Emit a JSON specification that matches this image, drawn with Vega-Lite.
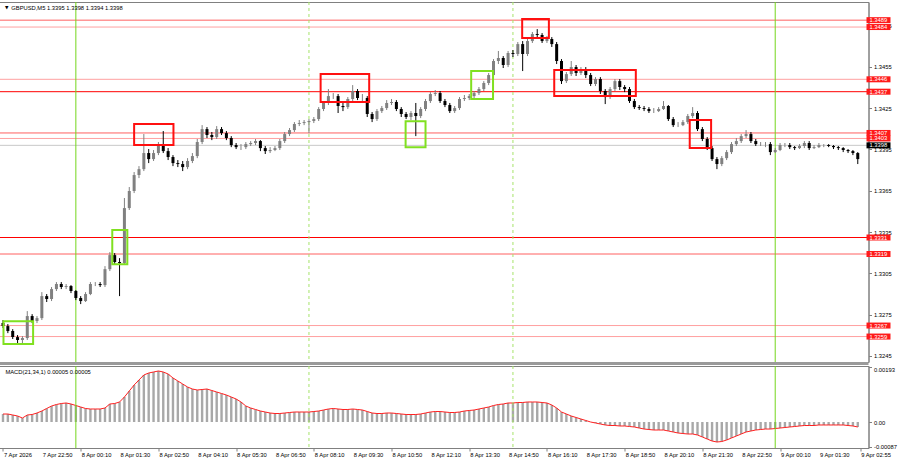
{
"$schema": "https://vega.github.io/schema/vega-lite/v6.json",
"padding": {"left": -4.5, "top": 1, "right": 0, "bottom": 0},
"background": "white",
"spacing": 4,
"bounds": "flush",
"config": {
  "view": {"stroke": "#808080", "strokeWidth": 1},
  "font": "Liberation Sans",
  "axis": {"labelFont": "Liberation Sans", "labelFontSize": 5.8, "labelColor": "#000000", "domainColor": "#808080", "tickColor": "#808080", "grid": false, "title": null, "tickSize": 3, "labelOverlap": false}
},
"datasets": {
  "bars": [
{"m":0,"o":1.32688,"h":1.3271,"l":1.32652,"c":1.32666,"macd":0.00028},
{"m":10,"o":1.32666,"h":1.32681,"l":1.32615,"c":1.3263,"macd":0.00028},
{"m":20,"o":1.3263,"h":1.32644,"l":1.32572,"c":1.32586,"macd":0.000246},
{"m":30,"o":1.32586,"h":1.32601,"l":1.32543,"c":1.32565,"macd":0.000211},
{"m":40,"o":1.32565,"h":1.32593,"l":1.32543,"c":1.32579,"macd":0.00014},
{"m":50,"o":1.32579,"h":1.32775,"l":1.32565,"c":1.32739,"macd":0.000246},
{"m":60,"o":1.32739,"h":1.32753,"l":1.32688,"c":1.32703,"macd":0.000263},
{"m":70,"o":1.32703,"h":1.32739,"l":1.32688,"c":1.32724,"macd":0.000316},
{"m":80,"o":1.32724,"h":1.32913,"l":1.3271,"c":1.32884,"macd":0.000386},
{"m":90,"o":1.32884,"h":1.32899,"l":1.32841,"c":1.32863,"macd":0.000474},
{"m":100,"o":1.32863,"h":1.3295,"l":1.32848,"c":1.32935,"macd":0.000561},
{"m":110,"o":1.32935,"h":1.32986,"l":1.32921,"c":1.32972,"macd":0.000614},
{"m":120,"o":1.32972,"h":1.32986,"l":1.32935,"c":1.3295,"macd":0.000649},
{"m":130,"o":1.3295,"h":1.32972,"l":1.32935,"c":1.32957,"macd":0.000667},
{"m":140,"o":1.32957,"h":1.32964,"l":1.32906,"c":1.32921,"macd":0.000632},
{"m":150,"o":1.32921,"h":1.32928,"l":1.32855,"c":1.3287,"macd":0.000579},
{"m":160,"o":1.3287,"h":1.32884,"l":1.32826,"c":1.32848,"macd":0.000526},
{"m":170,"o":1.32848,"h":1.32913,"l":1.32841,"c":1.32899,"macd":0.000474},
{"m":180,"o":1.32899,"h":1.32986,"l":1.32891,"c":1.32972,"macd":0.000456},
{"m":190,"o":1.32972,"h":1.32986,"l":1.32957,"c":1.32972,"macd":0.000456},
{"m":200,"o":1.32972,"h":1.32986,"l":1.3295,"c":1.32964,"macd":0.000456},
{"m":210,"o":1.32964,"h":1.33102,"l":1.3295,"c":1.3308,"macd":0.000491},
{"m":220,"o":1.3308,"h":1.33204,"l":1.33066,"c":1.33182,"macd":0.000632},
{"m":230,"o":1.33182,"h":1.33197,"l":1.33117,"c":1.33132,"macd":0.000649},
{"m":240,"o":1.33132,"h":1.3316,"l":1.32884,"c":1.33124,"macd":0.000702},
{"m":250,"o":1.33124,"h":1.33597,"l":1.3311,"c":1.33524,"macd":0.000877},
{"m":260,"o":1.33524,"h":1.33677,"l":1.3351,"c":1.33648,"macd":0.001088},
{"m":270,"o":1.33648,"h":1.33786,"l":1.33633,"c":1.33764,"macd":0.001298},
{"m":280,"o":1.33764,"h":1.33829,"l":1.33742,"c":1.33807,"macd":0.001474},
{"m":290,"o":1.33807,"h":1.34062,"l":1.33793,"c":1.33924,"macd":0.001649},
{"m":300,"o":1.33924,"h":1.33953,"l":1.33851,"c":1.3388,"macd":0.001719},
{"m":310,"o":1.3388,"h":1.33946,"l":1.33866,"c":1.33924,"macd":0.001755},
{"m":320,"o":1.33924,"h":1.34004,"l":1.33909,"c":1.33982,"macd":0.00179},
{"m":330,"o":1.33982,"h":1.34084,"l":1.33924,"c":1.33938,"macd":0.001755},
{"m":340,"o":1.33938,"h":1.3396,"l":1.33873,"c":1.33895,"macd":0.001684},
{"m":350,"o":1.33895,"h":1.33909,"l":1.33829,"c":1.33851,"macd":0.001544},
{"m":360,"o":1.33851,"h":1.33873,"l":1.33822,"c":1.33844,"macd":0.001439},
{"m":370,"o":1.33844,"h":1.33866,"l":1.33793,"c":1.33822,"macd":0.001333},
{"m":380,"o":1.33822,"h":1.33887,"l":1.33807,"c":1.33866,"macd":0.001228},
{"m":390,"o":1.33866,"h":1.33924,"l":1.33851,"c":1.33902,"macd":0.001158},
{"m":400,"o":1.33902,"h":1.34026,"l":1.33887,"c":1.34004,"macd":0.001123},
{"m":410,"o":1.34004,"h":1.34127,"l":1.33989,"c":1.34098,"macd":0.00114},
{"m":420,"o":1.34098,"h":1.34113,"l":1.34033,"c":1.34055,"macd":0.001158},
{"m":430,"o":1.34055,"h":1.34077,"l":1.34018,"c":1.3404,"macd":0.001105},
{"m":440,"o":1.3404,"h":1.3412,"l":1.34026,"c":1.34098,"macd":0.001053},
{"m":450,"o":1.34098,"h":1.34113,"l":1.34055,"c":1.34069,"macd":0.001},
{"m":460,"o":1.34069,"h":1.34084,"l":1.34018,"c":1.34033,"macd":0.000947},
{"m":470,"o":1.34033,"h":1.34047,"l":1.33967,"c":1.33982,"macd":0.000877},
{"m":480,"o":1.33982,"h":1.33997,"l":1.33953,"c":1.33967,"macd":0.000807},
{"m":490,"o":1.33967,"h":1.33989,"l":1.33946,"c":1.33967,"macd":0.000702},
{"m":500,"o":1.33967,"h":1.34004,"l":1.33953,"c":1.33989,"macd":0.000561},
{"m":510,"o":1.33989,"h":1.34011,"l":1.33975,"c":1.33997,"macd":0.000491},
{"m":520,"o":1.33997,"h":1.34026,"l":1.33982,"c":1.34011,"macd":0.000439},
{"m":530,"o":1.34011,"h":1.34018,"l":1.33938,"c":1.3396,"macd":0.000386},
{"m":540,"o":1.3396,"h":1.33975,"l":1.33917,"c":1.33938,"macd":0.000351},
{"m":550,"o":1.33938,"h":1.33967,"l":1.33924,"c":1.33946,"macd":0.000316},
{"m":560,"o":1.33946,"h":1.33975,"l":1.33938,"c":1.3396,"macd":0.000298},
{"m":570,"o":1.3396,"h":1.34026,"l":1.33946,"c":1.34011,"macd":0.000298},
{"m":580,"o":1.34011,"h":1.34077,"l":1.33997,"c":1.34062,"macd":0.000316},
{"m":590,"o":1.34062,"h":1.34106,"l":1.34047,"c":1.34091,"macd":0.000333},
{"m":600,"o":1.34091,"h":1.34149,"l":1.34077,"c":1.34135,"macd":0.000351},
{"m":610,"o":1.34135,"h":1.34164,"l":1.3412,"c":1.34142,"macd":0.000351},
{"m":620,"o":1.34142,"h":1.34164,"l":1.34127,"c":1.34149,"macd":0.000351},
{"m":630,"o":1.34149,"h":1.34171,"l":1.34069,"c":1.34157,"macd":0.000351},
{"m":640,"o":1.34157,"h":1.34186,"l":1.34142,"c":1.34171,"macd":0.000368},
{"m":650,"o":1.34171,"h":1.34258,"l":1.34157,"c":1.34244,"macd":0.000386},
{"m":660,"o":1.34244,"h":1.34302,"l":1.34229,"c":1.34288,"macd":0.000421},
{"m":670,"o":1.34288,"h":1.34389,"l":1.34273,"c":1.34338,"macd":0.000456},
{"m":680,"o":1.34338,"h":1.3436,"l":1.34317,"c":1.34338,"macd":0.000474},
{"m":690,"o":1.34338,"h":1.34353,"l":1.34215,"c":1.34266,"macd":0.000456},
{"m":700,"o":1.34266,"h":1.34288,"l":1.34229,"c":1.34258,"macd":0.000439},
{"m":710,"o":1.34258,"h":1.34331,"l":1.34244,"c":1.34317,"macd":0.000439},
{"m":720,"o":1.34317,"h":1.34418,"l":1.34302,"c":1.34375,"macd":0.000456},
{"m":730,"o":1.34375,"h":1.34389,"l":1.34309,"c":1.34324,"macd":0.000439},
{"m":740,"o":1.34324,"h":1.34353,"l":1.34302,"c":1.34324,"macd":0.000421},
{"m":750,"o":1.34324,"h":1.34338,"l":1.34186,"c":1.34208,"macd":0.000368},
{"m":760,"o":1.34208,"h":1.34222,"l":1.34149,"c":1.34171,"macd":0.000316},
{"m":770,"o":1.34171,"h":1.34244,"l":1.34157,"c":1.34229,"macd":0.000298},
{"m":780,"o":1.34229,"h":1.34266,"l":1.34215,"c":1.34251,"macd":0.000298},
{"m":790,"o":1.34251,"h":1.34309,"l":1.34237,"c":1.34288,"macd":0.000316},
{"m":800,"o":1.34288,"h":1.34317,"l":1.34273,"c":1.34295,"macd":0.000316},
{"m":810,"o":1.34295,"h":1.34309,"l":1.34229,"c":1.34244,"macd":0.000298},
{"m":820,"o":1.34244,"h":1.34258,"l":1.34186,"c":1.34208,"macd":0.000281},
{"m":830,"o":1.34208,"h":1.34222,"l":1.34171,"c":1.34186,"macd":0.000263},
{"m":840,"o":1.34186,"h":1.34229,"l":1.34164,"c":1.34215,"macd":0.000263},
{"m":850,"o":1.34215,"h":1.34288,"l":1.34047,"c":1.34193,"macd":0.000263},
{"m":860,"o":1.34193,"h":1.34258,"l":1.34178,"c":1.34244,"macd":0.000281},
{"m":870,"o":1.34244,"h":1.34317,"l":1.34229,"c":1.34302,"macd":0.000316},
{"m":880,"o":1.34302,"h":1.34367,"l":1.34288,"c":1.34353,"macd":0.000351},
{"m":890,"o":1.34353,"h":1.34382,"l":1.34338,"c":1.3436,"macd":0.000368},
{"m":900,"o":1.3436,"h":1.34375,"l":1.34288,"c":1.34302,"macd":0.000368},
{"m":910,"o":1.34302,"h":1.34317,"l":1.34258,"c":1.34273,"macd":0.000351},
{"m":920,"o":1.34273,"h":1.34288,"l":1.34215,"c":1.34229,"macd":0.000333},
{"m":930,"o":1.34229,"h":1.34266,"l":1.34215,"c":1.34251,"macd":0.000333},
{"m":940,"o":1.34251,"h":1.34331,"l":1.34237,"c":1.34317,"macd":0.000351},
{"m":950,"o":1.34317,"h":1.34346,"l":1.34302,"c":1.34324,"macd":0.000386},
{"m":960,"o":1.34324,"h":1.34353,"l":1.34309,"c":1.34338,"macd":0.000404},
{"m":970,"o":1.34338,"h":1.34375,"l":1.34324,"c":1.3436,"macd":0.000421},
{"m":980,"o":1.3436,"h":1.34404,"l":1.34346,"c":1.34389,"macd":0.000456},
{"m":990,"o":1.34389,"h":1.34447,"l":1.34375,"c":1.34433,"macd":0.000491},
{"m":1000,"o":1.34433,"h":1.34506,"l":1.34418,"c":1.34491,"macd":0.000526},
{"m":1010,"o":1.34491,"h":1.34607,"l":1.34476,"c":1.34593,"macd":0.000579},
{"m":1020,"o":1.34593,"h":1.34666,"l":1.34571,"c":1.34615,"macd":0.000614},
{"m":1030,"o":1.34615,"h":1.34629,"l":1.34542,"c":1.34564,"macd":0.000632},
{"m":1040,"o":1.34564,"h":1.34666,"l":1.34549,"c":1.34651,"macd":0.000667},
{"m":1050,"o":1.34651,"h":1.34673,"l":1.34622,"c":1.34644,"macd":0.000667},
{"m":1060,"o":1.34644,"h":1.34731,"l":1.34629,"c":1.34716,"macd":0.000684},
{"m":1070,"o":1.34716,"h":1.34738,"l":1.3452,"c":1.34644,"macd":0.000684},
{"m":1080,"o":1.34644,"h":1.34753,"l":1.34629,"c":1.34738,"macd":0.000702},
{"m":1090,"o":1.34738,"h":1.34804,"l":1.34724,"c":1.34789,"macd":0.000702},
{"m":1100,"o":1.34789,"h":1.34825,"l":1.34767,"c":1.34782,"macd":0.000702},
{"m":1110,"o":1.34782,"h":1.34796,"l":1.34724,"c":1.34738,"macd":0.000684},
{"m":1120,"o":1.34738,"h":1.34775,"l":1.34724,"c":1.34753,"macd":0.000667},
{"m":1130,"o":1.34753,"h":1.34767,"l":1.34695,"c":1.34716,"macd":0.000597},
{"m":1140,"o":1.34716,"h":1.34731,"l":1.34571,"c":1.34593,"macd":0.000491},
{"m":1150,"o":1.34593,"h":1.34607,"l":1.34426,"c":1.34447,"macd":0.000351},
{"m":1160,"o":1.34447,"h":1.34513,"l":1.34433,"c":1.34498,"macd":0.000281},
{"m":1170,"o":1.34498,"h":1.34593,"l":1.34484,"c":1.34549,"macd":0.000211},
{"m":1180,"o":1.34549,"h":1.34564,"l":1.34484,"c":1.34506,"macd":0.000158},
{"m":1190,"o":1.34506,"h":1.34549,"l":1.34491,"c":1.34535,"macd":0.000105},
{"m":1200,"o":1.34535,"h":1.34549,"l":1.34469,"c":1.34491,"macd":0.000053},
{"m":1210,"o":1.34491,"h":1.34506,"l":1.34411,"c":1.34426,"macd":0},
{"m":1220,"o":1.34426,"h":1.34476,"l":1.34411,"c":1.34462,"macd":-0.000035},
{"m":1230,"o":1.34462,"h":1.34476,"l":1.34353,"c":1.34375,"macd":-0.00007},
{"m":1240,"o":1.34375,"h":1.34389,"l":1.3428,"c":1.34331,"macd":-0.000105},
{"m":1250,"o":1.34331,"h":1.34404,"l":1.34317,"c":1.34389,"macd":-0.000123},
{"m":1260,"o":1.34389,"h":1.34462,"l":1.34375,"c":1.34447,"macd":-0.000123},
{"m":1270,"o":1.34447,"h":1.34462,"l":1.34382,"c":1.34404,"macd":-0.00014},
{"m":1280,"o":1.34404,"h":1.34418,"l":1.34367,"c":1.34389,"macd":-0.00014},
{"m":1290,"o":1.34389,"h":1.34404,"l":1.34288,"c":1.34302,"macd":-0.000158},
{"m":1300,"o":1.34302,"h":1.34317,"l":1.34244,"c":1.34258,"macd":-0.000175},
{"m":1310,"o":1.34258,"h":1.34273,"l":1.34237,"c":1.34251,"macd":-0.000211},
{"m":1320,"o":1.34251,"h":1.34266,"l":1.34229,"c":1.34244,"macd":-0.000246},
{"m":1330,"o":1.34244,"h":1.34258,"l":1.34215,"c":1.34229,"macd":-0.000263},
{"m":1340,"o":1.34229,"h":1.34251,"l":1.34215,"c":1.34229,"macd":-0.000281},
{"m":1350,"o":1.34229,"h":1.34258,"l":1.34222,"c":1.34244,"macd":-0.000281},
{"m":1360,"o":1.34244,"h":1.34302,"l":1.34237,"c":1.34266,"macd":-0.000281},
{"m":1370,"o":1.34266,"h":1.34273,"l":1.34157,"c":1.34171,"macd":-0.000316},
{"m":1380,"o":1.34171,"h":1.34186,"l":1.34113,"c":1.34127,"macd":-0.000351},
{"m":1390,"o":1.34127,"h":1.34149,"l":1.34113,"c":1.34127,"macd":-0.000386},
{"m":1400,"o":1.34127,"h":1.34164,"l":1.3412,"c":1.34149,"macd":-0.000404},
{"m":1410,"o":1.34149,"h":1.34208,"l":1.34135,"c":1.34193,"macd":-0.000421},
{"m":1420,"o":1.34193,"h":1.34258,"l":1.34178,"c":1.34215,"macd":-0.000421},
{"m":1430,"o":1.34215,"h":1.34229,"l":1.34084,"c":1.34098,"macd":-0.000456},
{"m":1440,"o":1.34098,"h":1.34113,"l":1.34011,"c":1.34026,"macd":-0.000526},
{"m":1450,"o":1.34026,"h":1.3404,"l":1.33946,"c":1.3396,"macd":-0.000597},
{"m":1460,"o":1.3396,"h":1.33975,"l":1.33866,"c":1.3388,"macd":-0.000667},
{"m":1470,"o":1.3388,"h":1.33895,"l":1.33807,"c":1.33844,"macd":-0.000702},
{"m":1480,"o":1.33844,"h":1.33902,"l":1.33829,"c":1.33887,"macd":-0.000684},
{"m":1490,"o":1.33887,"h":1.33946,"l":1.33873,"c":1.33931,"macd":-0.000632},
{"m":1500,"o":1.33931,"h":1.34004,"l":1.33917,"c":1.33989,"macd":-0.000561},
{"m":1510,"o":1.33989,"h":1.34033,"l":1.33975,"c":1.34011,"macd":-0.000491},
{"m":1520,"o":1.34011,"h":1.34062,"l":1.33997,"c":1.34047,"macd":-0.000421},
{"m":1530,"o":1.34047,"h":1.34091,"l":1.34033,"c":1.34062,"macd":-0.000351},
{"m":1540,"o":1.34062,"h":1.34077,"l":1.33997,"c":1.34011,"macd":-0.000316},
{"m":1550,"o":1.34011,"h":1.34026,"l":1.33975,"c":1.33989,"macd":-0.000281},
{"m":1560,"o":1.33989,"h":1.34004,"l":1.33975,"c":1.33989,"macd":-0.000263},
{"m":1570,"o":1.33989,"h":1.34004,"l":1.33967,"c":1.33989,"macd":-0.000246},
{"m":1580,"o":1.33989,"h":1.34004,"l":1.33909,"c":1.33931,"macd":-0.000246},
{"m":1590,"o":1.33931,"h":1.3396,"l":1.33924,"c":1.33946,"macd":-0.000228},
{"m":1600,"o":1.33946,"h":1.33997,"l":1.33938,"c":1.33982,"macd":-0.000211},
{"m":1610,"o":1.33982,"h":1.33997,"l":1.33967,"c":1.33982,"macd":-0.000193},
{"m":1620,"o":1.33982,"h":1.33997,"l":1.33953,"c":1.33967,"macd":-0.000175},
{"m":1630,"o":1.33967,"h":1.33975,"l":1.33946,"c":1.3396,"macd":-0.000158},
{"m":1640,"o":1.3396,"h":1.33989,"l":1.33953,"c":1.33975,"macd":-0.00014},
{"m":1650,"o":1.33975,"h":1.34011,"l":1.3396,"c":1.33997,"macd":-0.000123},
{"m":1660,"o":1.33997,"h":1.34011,"l":1.33946,"c":1.3396,"macd":-0.000123},
{"m":1670,"o":1.3396,"h":1.33982,"l":1.33953,"c":1.33967,"macd":-0.000123},
{"m":1680,"o":1.33967,"h":1.33997,"l":1.3396,"c":1.33982,"macd":-0.000105},
{"m":1690,"o":1.33982,"h":1.33989,"l":1.33967,"c":1.33982,"macd":-0.000105},
{"m":1700,"o":1.33982,"h":1.33989,"l":1.33967,"c":1.33975,"macd":-0.000105},
{"m":1710,"o":1.33975,"h":1.33982,"l":1.33953,"c":1.33967,"macd":-0.000105},
{"m":1720,"o":1.33967,"h":1.33975,"l":1.33946,"c":1.3396,"macd":-0.000105},
{"m":1730,"o":1.3396,"h":1.33967,"l":1.33931,"c":1.33946,"macd":-0.000105},
{"m":1740,"o":1.33946,"h":1.33953,"l":1.33924,"c":1.33938,"macd":-0.000123},
{"m":1750,"o":1.33938,"h":1.33946,"l":1.33909,"c":1.33924,"macd":-0.00014},
{"m":1760,"o":1.33924,"h":1.33931,"l":1.33844,"c":1.3388,"macd":-0.000175}
  ],
  "levels": [
    {"p": 1.3489, "s": "mid"},
    {"p": 1.3484, "s": "light"},
    {"p": 1.3446, "s": "light"},
    {"p": 1.3437, "s": "strong"},
    {"p": 1.3407, "s": "mid"},
    {"p": 1.3403, "s": "light"},
    {"p": 1.3331, "s": "strong"},
    {"p": 1.3319, "s": "mid"},
    {"p": 1.3267, "s": "light"},
    {"p": 1.3259, "s": "light"}
  ],
  "current": [{"p": 1.3398}],
  "vlines": [
    {"m": 150, "t": "day"},
    {"m": 630, "t": "session"},
    {"m": 1050, "t": "session"},
    {"m": 1590, "t": "day"}
  ],
  "xticks": [
    {"m": 0}, {"m": 80}, {"m": 160}, {"m": 240}, {"m": 320}, {"m": 400}, {"m": 480}, {"m": 560}, {"m": 640}, {"m": 720}, {"m": 800}, {"m": 880},
    {"m": 960}, {"m": 1040}, {"m": 1120}, {"m": 1200}, {"m": 1280}, {"m": 1360}, {"m": 1440}, {"m": 1520}, {"m": 1600}, {"m": 1680}, {"m": 1765}
  ],
  "boxes": [
    {"m1": 1, "m2": 62, "p1": 1.32702, "p2": 1.32535, "t": "buy"},
    {"m1": 225, "m2": 256, "p1": 1.33364, "p2": 1.33116, "t": "buy"},
    {"m1": 829, "m2": 870, "p1": 1.34156, "p2": 1.33967, "t": "buy"},
    {"m1": 964, "m2": 1009, "p1": 1.3452, "p2": 1.34316, "t": "buy"},
    {"m1": 270, "m2": 351, "p1": 1.34135, "p2": 1.33982, "t": "sell"},
    {"m1": 654, "m2": 754, "p1": 1.34498, "p2": 1.34295, "t": "sell"},
    {"m1": 1069, "m2": 1124, "p1": 1.34898, "p2": 1.3476, "t": "sell"},
    {"m1": 1135, "m2": 1303, "p1": 1.34527, "p2": 1.34338, "t": "sell"},
    {"m1": 1414, "m2": 1458, "p1": 1.34164, "p2": 1.3396, "t": "sell"}
  ]
},
"vconcat": [
  {
    "width": 871,
    "height": 360,
    "layer": [
      {
        "data": {"name": "levels"},
        "mark": {"type": "rule", "strokeWidth": 1},
        "encoding": {
          "y": {"field": "p", "type": "quantitative", "scale": {"domain": [1.32405, 1.35022], "nice": false, "zero": false},
                "axis": {"orient": "right", "values": [1.3245, 1.326, 1.3275, 1.329, 1.3305, 1.332, 1.3335, 1.335, 1.3365, 1.338, 1.3395, 1.341, 1.3425, 1.344, 1.3455, 1.347, 1.3485, 1.35], "format": ".4f", "labelPadding": 2, "labelFlush": false}},
          "color": {"value": {"expr": "datum.s == 'strong' ? '#ff0000' : (datum.s == 'mid' ? '#ff6060' : '#ffa0a0')"}}
        }
      },
      {
        "data": {"name": "current"},
        "mark": {"type": "rule", "color": "#c8c8c8", "strokeWidth": 1},
        "encoding": {
          "y": {"field": "p", "type": "quantitative", "scale": {"domain": [1.32405, 1.35022], "nice": false, "zero": false}}
        }
      },
      {
        "data": {"name": "vlines"},
        "mark": {"type": "rule", "strokeWidth": 1},
        "encoding": {
          "x": {"field": "m", "type": "quantitative", "scale": {"domain": [-1.02, 1771.8], "nice": false, "zero": false}, "axis": null},
          "color": {"condition": {"test": "datum.t == 'day'", "value": "#74d61c"}, "value": "#a6e36a"},
          "strokeDash": {"condition": {"test": "datum.t == 'day'", "value": [1, 0]}, "value": [3, 3]}
        }
      },
      {
        "data": {"name": "bars"},
        "mark": {"type": "rule", "strokeWidth": 1},
        "encoding": {
          "x": {"field": "m", "type": "quantitative", "scale": {"domain": [-1.02, 1771.8], "nice": false, "zero": false}, "axis": null},
          "y": {"field": "l", "type": "quantitative", "scale": {"domain": [1.32405, 1.35022], "nice": false, "zero": false}},
          "y2": {"field": "h"},
          "color": {"condition": {"test": "datum.c >= datum.o", "value": "#808080"}, "value": "#000000"}
        }
      },
      {
        "data": {"name": "bars"},
        "mark": {"type": "bar", "width": 3},
        "encoding": {
          "x": {"field": "m", "type": "quantitative", "scale": {"domain": [-1.02, 1771.8], "nice": false, "zero": false}, "axis": null},
          "y": {"field": "o", "type": "quantitative", "scale": {"domain": [1.32405, 1.35022], "nice": false, "zero": false}},
          "y2": {"field": "c"},
          "color": {"condition": {"test": "datum.c >= datum.o", "value": "#808080"}, "value": "#000000"}
        }
      },
      {
        "data": {"name": "boxes"},
        "mark": {"type": "rect", "filled": false, "strokeWidth": 2},
        "encoding": {
          "x": {"field": "m1", "type": "quantitative", "scale": {"domain": [-1.02, 1771.8], "nice": false, "zero": false}, "axis": null},
          "x2": {"field": "m2"},
          "y": {"field": "p1", "type": "quantitative", "scale": {"domain": [1.32405, 1.35022], "nice": false, "zero": false}},
          "y2": {"field": "p2"},
          "stroke": {"condition": {"test": "datum.t == 'buy'", "value": "#80e020"}, "value": "#ff1010"}
        }
      },
      {
        "data": {"name": "levels"},
        "mark": {"type": "point", "shape": "M-1,-0.25H1V0.25H-1Z", "size": 576, "filled": true, "fill": "#ff1a1a", "opacity": 1, "strokeWidth": 0, "xOffset": 15, "clip": false},
        "encoding": {
          "x": {"datum": 1771.8, "type": "quantitative", "scale": {"domain": [-1.02, 1771.8], "nice": false, "zero": false}, "axis": null},
          "y": {"field": "p", "type": "quantitative", "scale": {"domain": [1.32405, 1.35022], "nice": false, "zero": false}}
        }
      },
      {
        "data": {"name": "levels"},
        "mark": {"type": "text", "align": "left", "baseline": "middle", "dx": 6, "fontSize": 5.8, "color": "#ffffff", "clip": false},
        "encoding": {
          "x": {"datum": 1771.8, "type": "quantitative", "scale": {"domain": [-1.02, 1771.8], "nice": false, "zero": false}, "axis": null},
          "y": {"field": "p", "type": "quantitative", "scale": {"domain": [1.32405, 1.35022], "nice": false, "zero": false}},
          "text": {"field": "p", "type": "quantitative", "format": ".4f"}
        }
      },
      {
        "data": {"name": "current"},
        "mark": {"type": "point", "shape": "M-1,-0.25H1V0.25H-1Z", "size": 576, "filled": true, "fill": "#000000", "opacity": 1, "strokeWidth": 0, "xOffset": 15, "clip": false},
        "encoding": {
          "x": {"datum": 1771.8, "type": "quantitative", "scale": {"domain": [-1.02, 1771.8], "nice": false, "zero": false}, "axis": null},
          "y": {"field": "p", "type": "quantitative", "scale": {"domain": [1.32405, 1.35022], "nice": false, "zero": false}}
        }
      },
      {
        "data": {"name": "current"},
        "mark": {"type": "text", "align": "left", "baseline": "middle", "dx": 6, "fontSize": 5.8, "color": "#ffffff", "clip": false},
        "encoding": {
          "x": {"datum": 1771.8, "type": "quantitative", "scale": {"domain": [-1.02, 1771.8], "nice": false, "zero": false}, "axis": null},
          "y": {"field": "p", "type": "quantitative", "scale": {"domain": [1.32405, 1.35022], "nice": false, "zero": false}},
          "text": {"field": "p", "type": "quantitative", "format": ".4f"}
        }
      },
      {
        "data": {"values": [{"t": "▼"}]},
        "mark": {"type": "text", "align": "left", "baseline": "middle", "fontSize": 4.5, "color": "#000000", "font": "DejaVu Sans"},
        "encoding": {
          "x": {"datum": 4, "type": "quantitative", "scale": {"domain": [-1.02, 1771.8], "nice": false, "zero": false}, "axis": null},
          "y": {"datum": 1.34978, "type": "quantitative", "scale": {"domain": [1.32405, 1.35022], "nice": false, "zero": false}},
          "text": {"field": "t"}
        }
      },
      {
        "data": {"values": [{"t": "GBPUSD,M5  1.3395 1.3398 1.3394 1.3398"}]},
        "mark": {"type": "text", "align": "left", "baseline": "middle", "fontSize": 5.8, "color": "#000000"},
        "encoding": {
          "x": {"datum": 17, "type": "quantitative", "scale": {"domain": [-1.02, 1771.8], "nice": false, "zero": false}, "axis": null},
          "y": {"datum": 1.34978, "type": "quantitative", "scale": {"domain": [1.32405, 1.35022], "nice": false, "zero": false}},
          "text": {"field": "t"}
        }
      },
      {
        "data": {"values": [{"edge": "panel"}]},
        "mark": {"type": "rule", "color": "#9a9a9a", "strokeWidth": 3, "yOffset": 1.5, "clip": false},
        "encoding": {
          "y": {"datum": 1.32405, "type": "quantitative", "scale": {"domain": [1.32405, 1.35022], "nice": false, "zero": false}}
        }
      }
    ]
  },
  {
    "width": 871,
    "height": 82,
    "layer": [
      {
        "data": {"name": "bars"},
        "mark": {"type": "bar", "width": 2.4, "color": "#a8a8a8"},
        "encoding": {
          "x": {"field": "m", "type": "quantitative", "scale": {"domain": [-1.02, 1771.8], "nice": false, "zero": false},
                "axis": {"orient": "bottom", "values": [0, 80, 160, 240, 320, 400, 480, 560, 640, 720, 800, 880, 960, 1040, 1120, 1200, 1280, 1360, 1440, 1520, 1600, 1680, 1765], "labels": false, "tickSize": 3}},
          "y": {"field": "macd", "type": "quantitative", "scale": {"domain": [-0.000912, 0.001965], "nice": false, "zero": false},
                "axis": {"orient": "right", "values": [-0.00087, 0, 0.00193], "labelExpr": "datum.value == 0 ? '0.00' : replace(format(datum.value, '.5f'), '\u2212', '-')", "labelPadding": 2, "labelFlush": true}},
          "y2": {"datum": 0}
        }
      },
      {
        "data": {"name": "bars"},
        "mark": {"type": "line", "color": "#ff2020", "strokeWidth": 1},
        "encoding": {
          "x": {"field": "m", "type": "quantitative", "scale": {"domain": [-1.02, 1771.8], "nice": false, "zero": false}},
          "y": {"field": "macd", "type": "quantitative", "scale": {"domain": [-0.000912, 0.001965], "nice": false, "zero": false}}
        }
      },
      {
        "data": {"name": "vlines"},
        "mark": {"type": "rule", "strokeWidth": 1},
        "encoding": {
          "x": {"field": "m", "type": "quantitative", "scale": {"domain": [-1.02, 1771.8], "nice": false, "zero": false}},
          "color": {"condition": {"test": "datum.t == 'day'", "value": "#74d61c"}, "value": "#a6e36a"},
          "strokeDash": {"condition": {"test": "datum.t == 'day'", "value": [1, 0]}, "value": [3, 3]}
        }
      },
      {
        "data": {"values": [{"t": "MACD(21,34,1) 0.00005 0.00005"}]},
        "mark": {"type": "text", "align": "left", "baseline": "middle", "fontSize": 5.8, "color": "#000000"},
        "encoding": {
          "x": {"datum": 5, "type": "quantitative", "scale": {"domain": [-1.02, 1771.8], "nice": false, "zero": false}},
          "y": {"datum": 0.001765, "type": "quantitative", "scale": {"domain": [-0.000912, 0.001965], "nice": false, "zero": false}},
          "text": {"field": "t"}
        }
      },
      {
        "data": {"name": "xticks"},
        "mark": {"type": "text", "align": "left", "baseline": "top", "dx": 1, "dy": 4, "fontSize": 5.8, "color": "#000000", "clip": false},
        "encoding": {
          "x": {"field": "m", "type": "quantitative", "scale": {"domain": [-1.02, 1771.8], "nice": false, "zero": false}},
          "y": {"datum": -0.000912, "type": "quantitative", "scale": {"domain": [-0.000912, 0.001965], "nice": false, "zero": false}},
          "text": {"value": {"expr": "datum.m == 0 ? '7 Apr 2026' : utcFormat(utc(2026, 3, 7, 21, 30) + datum.m * 60000, '%-d %b %H:%M')"}}
        }
      }
    ]
  }
]
}
